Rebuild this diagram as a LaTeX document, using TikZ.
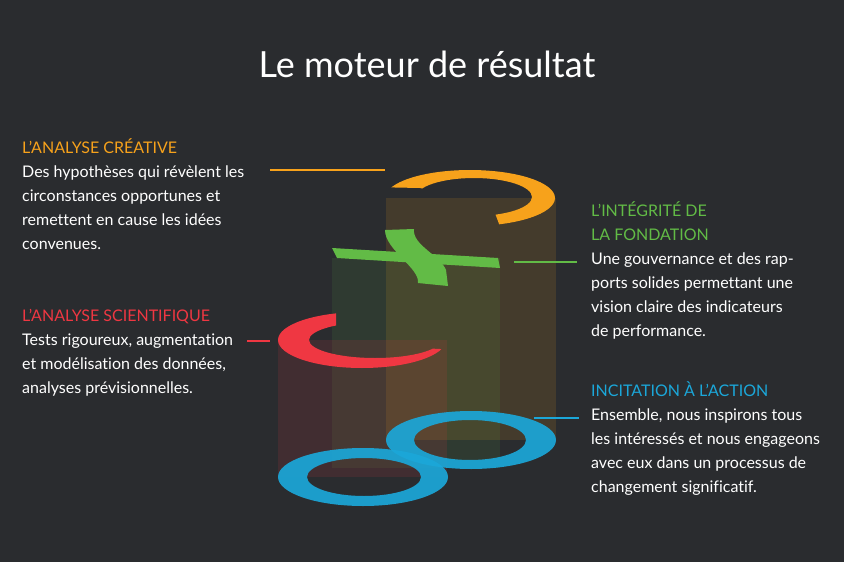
\documentclass[tikz,border=0pt]{standalone}
\usepackage{fontspec}
\setmainfont{Lato}[Ligatures={NoCommon}]
\definecolor{bg}{HTML}{2A2C2F}
\definecolor{cor}{HTML}{F7A21B}
\definecolor{cgr}{HTML}{62BB46}
\definecolor{cre}{HTML}{EF3742}
\definecolor{cbl}{HTML}{1BA7D9}
\begin{document}
\begin{tikzpicture}[x=1pt,y=-1pt,
  body/.style={white,font=\fontsize{16}{24}\selectfont,anchor=base west,align=left,inner sep=0pt},
  lead/.style={line width=1.3pt}]
\fill[bg] (0,0) rectangle (844,562);
\useasboundingbox (0,0) rectangle (844,562);
\node[white,font=\fontsize{36}{40}\selectfont] (title) at (427,64) {Le moteur de résultat};
% bodies
\fill[cor,opacity=0.13] (386,198) rectangle (556,440);
\fill[cgr,opacity=0.10] (332,258) rectangle (500,468);
\fill[cre,opacity=0.12] (278,340) rectangle (447,477);
% orange ring
\begin{scope}
\clip (370,150)--(600,150)--(600,240)--(505,240)--(492,205)--(420,188)--(370,187)--cycle;
\fill[cor,even odd rule] (470,198) ellipse [x radius=85,y radius=28] (474,197) ellipse [x radius=58,y radius=19];
\end{scope}
% green shape
\fill[cgr] (332,248)--(498,258)--(500,268)--(337,258)--cycle;
\fill[cgr] (385,230)--(414,229) .. controls (412,245) and (440,255) .. (446,270) -- (448,286) -- (418,283) .. controls (420,268) and (385,250) .. (385,230);
% red ring
\begin{scope}
\clip (336,300)--(260,300)--(260,390)--(460,390)--(460,350)--(380,346)--(336,330)--cycle;
\fill[cre,even odd rule] (362,340) ellipse [x radius=84,y radius=28] (375,340) ellipse [x radius=66,y radius=18];
\end{scope}
% blue rings
\fill[cbl,opacity=0.92,even odd rule] (471,440) ellipse [x radius=85,y radius=29] (470,440) ellipse [x radius=56,y radius=20];
\fill[cbl,opacity=0.92,even odd rule] (363,477) ellipse [x radius=85,y radius=29] (364,477) ellipse [x radius=57,y radius=19];
% leader lines
\coordinate (o1) at (270,170); \coordinate (o2) at (385,170);
\coordinate (g1) at (514,262); \coordinate (g2) at (577,262);
\coordinate (r1) at (247,341); \coordinate (r2) at (270,341);
\coordinate (b1) at (534,418); \coordinate (b2) at (579,418);
\draw[lead,cor] (o1)--(o2);
\draw[lead,cgr] (g1)--(g2);
\draw[lead,cre] (r1)--(r2);
\draw[lead,cbl] (b1)--(b2);
% texts (base anchor = last line)
\node[body] (t1) at (22,249) {\textcolor{cor}{L’ANALYSE CRÉATIVE}\\Des hypothèses qui révèlent les\\circonstances opportunes et\\remettent en cause les idées\\convenues.};
\node[body] (t2) at (22,393) {\textcolor{cre}{L’ANALYSE SCIENTIFIQUE}\\Tests rigoureux, augmentation\\et modélisation des données,\\analyses prévisionnelles.};
\node[body] (t3) at (591,336) {\textcolor{cgr}{L’INTÉGRITÉ DE}\\\textcolor{cgr}{LA FONDATION}\\Une gouvernance et des rap-\\ports solides permettant une\\vision claire des indicateurs\\de performance.};
\node[body] (t4) at (591,492) {\textcolor{cbl}{INCITATION À L’ACTION}\\Ensemble, nous inspirons tous\\les intéressés et nous engageons\\avec eux dans un processus de\\changement significatif.};
\end{tikzpicture}
\end{document}
